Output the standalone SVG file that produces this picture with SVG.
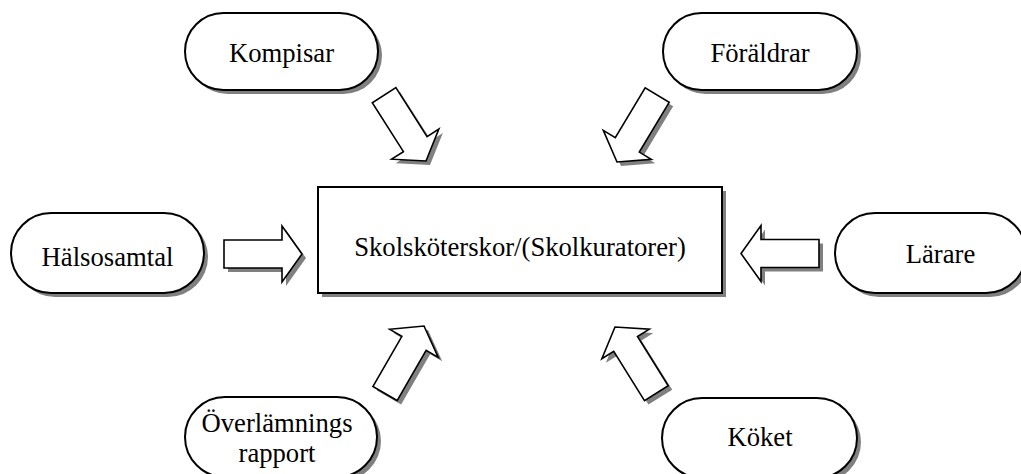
<svg xmlns="http://www.w3.org/2000/svg" xmlns:xlink="http://www.w3.org/1999/xlink" width="1021" height="474" viewBox="0 0 1021 474">
<style>
.shape{fill:#fff;stroke:#000;stroke-width:2}
.arrow{fill:#fff;stroke:#000;stroke-width:1.6;stroke-linejoin:miter}
.shadow{fill:#808080;stroke:none}
.lbl{font-family:"Liberation Serif","Times New Roman",serif;font-size:26.67px;fill:#000;text-anchor:middle}
</style>
<defs>
<path id="arr" d="M-78,-14 L-20,-14 L-20,-28 L0,0 L-20,28 L-20,14 L-78,14 Z"/>
</defs>
<rect width="1021" height="474" fill="#fff"/>

<g id="connectors">
<use xlink:href="#arr" class="shadow" transform="translate(306,258) rotate(0)"/>
<use xlink:href="#arr" class="arrow" transform="translate(302,254) rotate(0)"/>
<use xlink:href="#arr" class="shadow" transform="translate(430,165) rotate(57.5)"/>
<use xlink:href="#arr" class="arrow" transform="translate(426,161) rotate(57.5)"/>
<use xlink:href="#arr" class="shadow" transform="translate(621,166) rotate(121)"/>
<use xlink:href="#arr" class="arrow" transform="translate(617,162) rotate(121)"/>
<use xlink:href="#arr" class="shadow" transform="translate(745,257.5) rotate(180)"/>
<use xlink:href="#arr" class="arrow" transform="translate(741,253.5) rotate(180)"/>
<use xlink:href="#arr" class="shadow" transform="translate(428,330) rotate(-60)"/>
<use xlink:href="#arr" class="arrow" transform="translate(424,326) rotate(-60)"/>
<use xlink:href="#arr" class="shadow" transform="translate(619,331) rotate(-122)"/>
<use xlink:href="#arr" class="arrow" transform="translate(615,327) rotate(-122)"/>
</g>

<g id="center">
<rect x="322" y="191" width="404" height="106" class="shadow"/>
<rect x="318" y="187" width="404" height="106" class="shape"/>
<text x="520" y="256" class="lbl">Skolsköterskor/(Skolkuratorer)</text>
</g>

<g id="kompisar">
<rect x="189" y="17" width="193" height="77" rx="38.5" class="shadow"/>
<rect x="185" y="13" width="193" height="77" rx="38.5" class="shape"/>
<text x="281.5" y="62" class="lbl">Kompisar</text>
</g>

<g id="foraldrar">
<rect x="667" y="17" width="194" height="77" rx="38.5" class="shadow"/>
<rect x="663" y="13" width="194" height="77" rx="38.5" class="shape"/>
<text x="760" y="62" class="lbl">Föräldrar</text>
</g>

<g id="halsosamtal">
<rect x="15" y="217" width="193" height="80" rx="40" class="shadow"/>
<rect x="11" y="213" width="193" height="80" rx="40" class="shape"/>
<text x="107.5" y="266" class="lbl">Hälsosamtal</text>
</g>

<g id="larare">
<rect x="839" y="217" width="191" height="80" rx="40" class="shadow"/>
<rect x="835" y="213" width="191" height="80" rx="40" class="shape"/>
<text x="940.5" y="263" class="lbl">Lärare</text>
</g>

<g id="overlamning">
<rect x="189" y="401" width="192" height="80" rx="40" class="shadow"/>
<rect x="185" y="397" width="192" height="80" rx="40" class="shape"/>
<text x="277" y="432" class="lbl">Överlämnings</text>
<text x="277" y="462" class="lbl">rapport</text>
</g>

<g id="koket">
<rect x="666" y="402" width="195" height="80" rx="40" class="shadow"/>
<rect x="662" y="398" width="195" height="80" rx="40" class="shape"/>
<text x="760" y="446" class="lbl">Köket</text>
</g>
</svg>
